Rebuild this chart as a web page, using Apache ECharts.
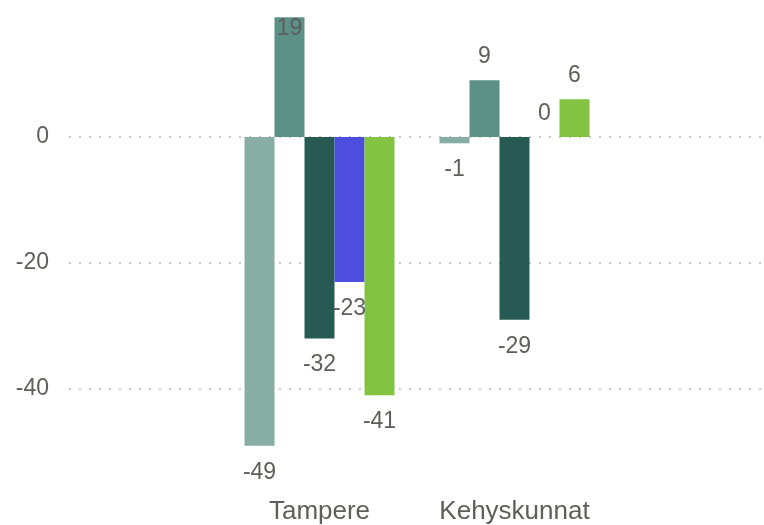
<!DOCTYPE html>
<html>
<head>
<meta charset="utf-8">
<script src="https://cdn.jsdelivr.net/npm/echarts@6/dist/echarts.min.js"></script>
<style>
html,body{margin:0;padding:0;background:#fff;}
#chart{width:764px;height:525px;}
</style>
</head>
<body>
<div id="chart"></div>
<script>
const categories = ['Tampere', 'Kehyskunnat'];
const series1 = [-49, -1];
const series2 = [19, 9];
const series3 = [-32, -29];
const series4 = [-23, 0];
const series5 = [-41, 6];
const seriesNames = ['Sarja 1', 'Sarja 2', 'Sarja 3', 'Sarja 4', 'Sarja 5'];
const colors = ['#87ADA5', '#5C9188', '#275A52', '#4D4EDF', '#82C341'];
const yTicks = [0, -20, -40];
const yMin = -49, yMax = 19;

const FONT = "'Liberation Sans', Arial, sans-serif";
const TXT = '#605E5C';
const unit = 6.3;
const zeroY = 137;

const allSeries = [series1, series2, series3, series4, series5];

const chart = echarts.init(document.getElementById('chart'), null, {renderer: 'canvas'});

chart.setOption({
  animation: false,
  backgroundColor: '#fff',
  grid: [
    {left: 69, right: 0, top: zeroY, height: (yTicks[0] - yTicks[yTicks.length - 1]) * unit, containLabel: false},
    {left: 222, width: 390, top: zeroY - yMax * unit, height: (yMax - yMin) * unit, containLabel: false}
  ],
  xAxis: [
    {gridIndex: 0, type: 'category', data: categories, show: false},
    {gridIndex: 1, type: 'category', data: categories,
     axisLine: {show: false}, axisTick: {show: false},
     axisLabel: {interval: 0, hideOverlap: false, margin: 53, fontSize: 26, color: TXT, fontFamily: FONT}}
  ],
  yAxis: [
    {gridIndex: 0, type: 'value', min: yTicks[yTicks.length - 1], max: yTicks[0], interval: 20,
     axisLine: {show: false}, axisTick: {show: false},
     axisLabel: {margin: 20, fontSize: 23, color: TXT, fontFamily: FONT, padding: [3, 0, 0, 0]},
     splitLine: {show: true, lineStyle: {color: '#C8C8C8', width: 2, type: [2, 8]}}},
    {gridIndex: 1, type: 'value', min: yMin, max: yMax, show: false, splitLine: {show: false}}
  ],
  series: allSeries.map((vals, i) => ({
    name: seriesNames[i],
    type: 'bar',
    xAxisIndex: 1,
    yAxisIndex: 1,
    barWidth: 30,
    barGap: '0%',
    itemStyle: {color: colors[i]},
    label: {show: true, fontSize: 23, color: TXT, fontFamily: FONT, distance: 15},
    data: vals.map(v => ({
      value: v,
      label: {position: v >= yMax ? 'insideTop' : (v >= 0 ? 'top' : 'bottom'), distance: v >= yMax ? 0 : (v >= 0 ? 12 : 15)}
    }))
  }))
});
</script>
</body>
</html>
